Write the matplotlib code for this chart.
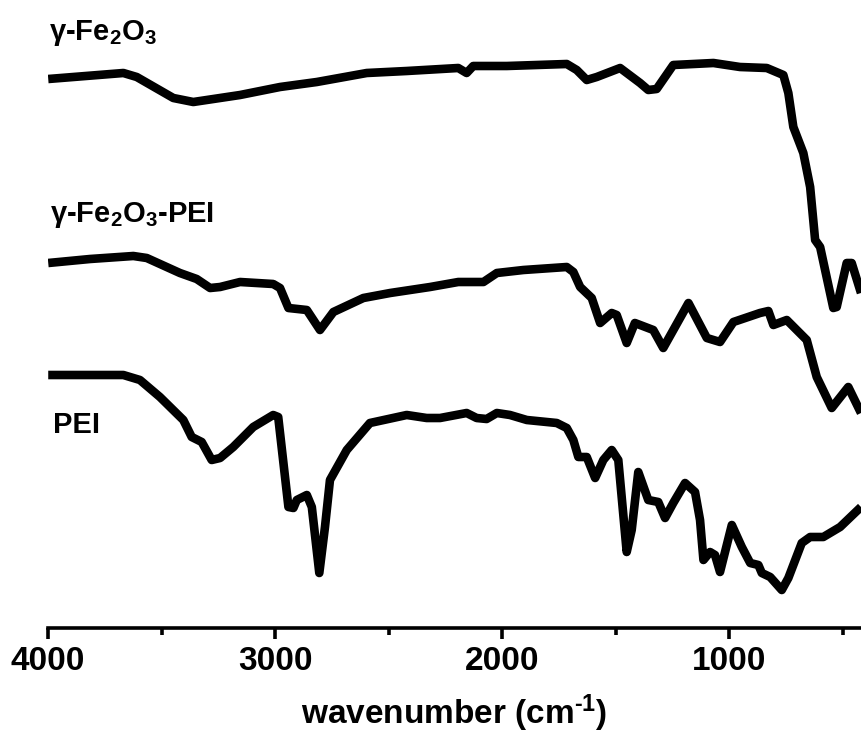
import matplotlib
matplotlib.use('Agg')
import matplotlib.pyplot as plt
from matplotlib.ticker import MultipleLocator

plt.rcParams['font.family'] = ['Liberation Sans', 'DejaVu Sans']
plt.rcParams['mathtext.default'] = 'regular'

# FTIR spectra (wavenumber in cm-1, transmittance in a.u., stacked)
fe2o3_wn = [3999, 3668, 3609, 3448, 3360, 3154, 2978, 2816, 2596, 2420, 2193, 2156, 2127,
            1979, 1715, 1671, 1627, 1583, 1480, 1392, 1356, 1319, 1246, 1069, 952, 834,
            761, 739, 717, 673, 643, 621, 599, 541, 526, 482, 460, 419]
fe2o3_t = [549, 555, 551, 530, 526, 533, 541, 546, 555, 557, 560, 555, 562,
           562, 564, 558, 548, 551, 560, 545, 538, 539, 563, 565, 561, 560,
           553, 535, 501, 475, 441, 388, 381, 320, 321, 365, 365, 335]

fepei_wn = [3999, 3815, 3624, 3565, 3419, 3345, 3286, 3242, 3154, 3008, 2978, 2941, 2860,
            2802, 2743, 2611, 2493, 2317, 2193, 2082, 2023, 1906, 1715, 1686, 1656, 1605,
            1568, 1517, 1495, 1451, 1415, 1334, 1290, 1179, 1098, 1040, 981, 864, 827,
            805, 746, 658, 614, 548, 475, 419]
fepei_t = [365, 369, 372, 370, 355, 349, 340, 341, 346, 344, 340, 320, 318,
           298, 316, 330, 335, 341, 346, 346, 355, 358, 361, 356, 341, 330,
           305, 315, 313, 285, 305, 298, 280, 325, 290, 286, 306, 315, 317,
           303, 308, 288, 251, 220, 241, 215]

pei_wn = [3999, 3668, 3595, 3507, 3404, 3367, 3323, 3279, 3242, 3184, 3096, 3008, 2986,
          2941, 2919, 2904, 2860, 2838, 2805, 2780, 2758, 2684, 2582, 2420, 2332, 2273,
          2156, 2112, 2068, 2023, 1965, 1891, 1759, 1715, 1686, 1664, 1627, 1590, 1554,
          1517, 1488, 1451, 1429, 1400, 1356, 1312, 1282, 1246, 1194, 1150, 1128, 1113,
          1084, 1062, 1040, 988, 944, 907, 871, 856, 819, 768, 739, 680, 643, 585, 511, 419]
pei_t = [253, 253, 248, 231, 208, 191, 186, 168, 170, 181, 201, 213, 211,
         121, 120, 128, 133, 121, 55, 101, 148, 178, 205, 213, 210, 210,
         215, 210, 209, 215, 213, 208, 205, 200, 188, 171, 171, 150, 168,
         178, 168, 76, 98, 156, 128, 126, 110, 125, 145, 136, 108, 68,
         76, 73, 56, 103, 81, 65, 63, 55, 51, 38, 50, 85, 91, 91, 101, 121]

labels = [r'$\gamma$-Fe$_2$O$_3$', r'$\gamma$-Fe$_2$O$_3$-PEI', 'PEI']

fig = plt.figure(figsize=(8.61, 7.42), dpi=100)
ax = fig.add_axes([48 / 861, 114 / 742, 813 / 861, 628 / 742])

for wn, t in [(fe2o3_wn, fe2o3_t), (fepei_wn, fepei_t), (pei_wn, pei_t)]:
    ax.plot(wn, t, color='black', lw=6.2, solid_joinstyle='round', solid_capstyle='butt')

ax.set_xlim(4000, 419)
ax.set_ylim(0, 628)

# labels placed to the left above each spectrum
ax.text(3995, 588, labels[0], fontsize=21, fontweight='bold', va='baseline', ha='left')
ax.text(3990, 406, labels[1], fontsize=21, fontweight='bold', va='baseline', ha='left')
ax.text(3980, 195, labels[2], fontsize=21, fontweight='bold', va='baseline', ha='left')

for side in ['top', 'right', 'left']:
    ax.spines[side].set_visible(False)
ax.spines['bottom'].set_linewidth(2.6)
ax.set_yticks([])
ax.xaxis.set_major_locator(MultipleLocator(1000))
ax.xaxis.set_minor_locator(MultipleLocator(500))
ax.tick_params(axis='x', which='major', length=8, width=2.6, direction='out', pad=5)
ax.tick_params(axis='x', which='minor', length=5, width=2.6, direction='out')
for lab in ax.get_xticklabels():
    lab.set_fontsize(24)
    lab.set_fontweight('bold')

ax.set_xlabel('wavenumber (cm$^{\u20101}$)', fontsize=24, fontweight='bold', labelpad=11)

fig.savefig('out.png', dpi=100)
